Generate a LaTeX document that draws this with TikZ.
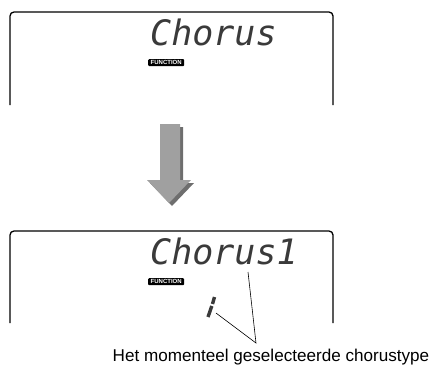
\documentclass[tikz,border=0pt]{standalone}
\definecolor{ArrowGray}{HTML}{A0A0A0}
\definecolor{ShadowGray}{HTML}{6E6E6E}
\definecolor{LcdInk}{HTML}{3A3A3A}
\usepackage{fontspec}
\setmainfont{Liberation Sans}
\newfontfamily\lcdfont{DejaVu Sans Mono}
\usepackage{tikz}
\usetikzlibrary{positioning, calc}

\tikzset{
  lcdframe/.style={line width=1.3pt, rounded corners=4pt},
  lcdtext/.style={inner sep=0pt, anchor=base west, text=LcdInk,
    font=\lcdfont\itshape\fontsize{35}{40}\selectfont},
  fnbadge/.style={fill=black, rounded corners=1pt, inner sep=0.6pt,
    text=white, font=\bfseries\fontsize{6}{6}\selectfont, anchor=north west,
    minimum width=36pt, minimum height=7pt},
  leader/.style={line width=0.6pt}
}

\begin{document}
\begin{tikzpicture}[x=1pt, y=-1pt]
  \useasboundingbox (0,0) rectangle (433,367);
  % Top display
  \draw[lcdframe] (10,105) -- (10,12) -- (333,12) -- (333,105);
  \node[lcdtext] (chorus) at (150,45) {Chorus};
  \node[fnbadge] (fntop) at (148,59) {FUNCTION};
  % Arrow with shadow
  \foreach \dx/\col in {3/ShadowGray, 0/ArrowGray} {
    \fill[\col, shift={(\dx,\dx)}]
      (160,124) -- (180,124) -- (180,180) -- (191,180)
      -- (169,203) -- (147,180) -- (160,180) -- cycle;
  }
  % Bottom display
  \draw[lcdframe] (10,323) -- (10,231) -- (333,231) -- (333,323);
  \node[lcdtext] (chorusone) at (150,264) {Chorus1};
  \node[fnbadge] (fnbottom) at (148,278) {FUNCTION};
  % Selected number (segments)
  \draw[LcdInk, line width=3.4pt] (214.5,297) -- (212.5,304);
  \draw[LcdInk, line width=3.4pt] (211.8,306) -- (208,317);
  \coordinate (digit) at (216,313);
  \coordinate (nameend) at (248,272);
  \coordinate (meet) at (256,343);
  % Caption
  \node[font=\fontsize{17.1}{19}\selectfont, anchor=base] (caption)
    at (271,361) {Het momenteel geselecteerde chorustype};
  \draw[leader] (digit) -- (meet) -- (nameend);
\end{tikzpicture}
\end{document}
